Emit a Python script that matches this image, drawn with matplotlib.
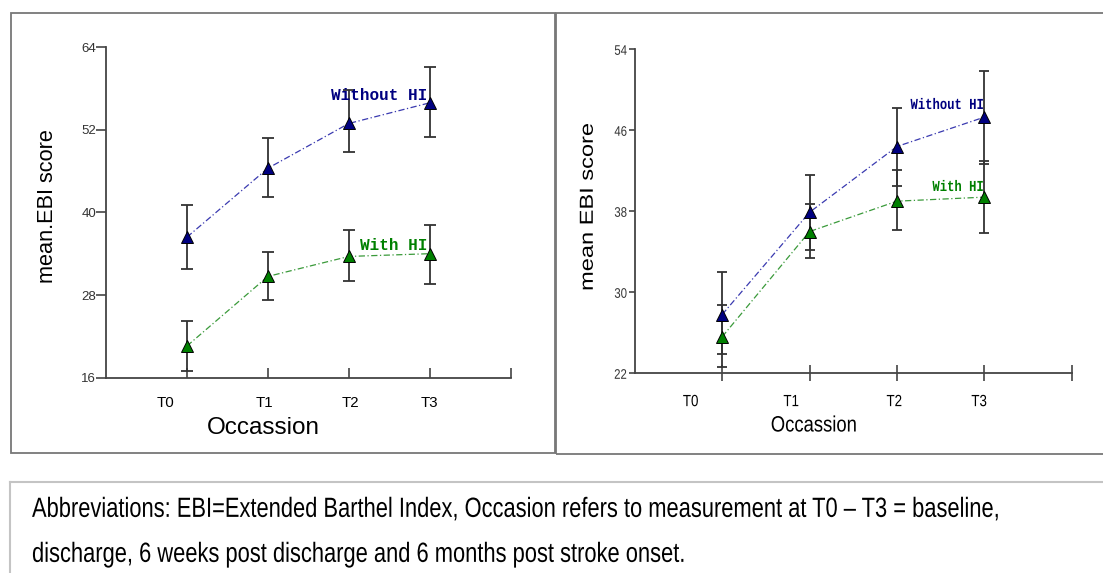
import matplotlib
matplotlib.use('Agg')
import matplotlib.pyplot as plt
from matplotlib import patheffects
from matplotlib.patches import Rectangle
from matplotlib.lines import Line2D
from matplotlib.transforms import Affine2D

# data
occasions = ['T0', 'T1', 'T2', 'T3']
x_pos = [1, 2, 3, 4]

left_without = [36.4, 46.4, 52.9, 55.9]
left_without_lo = [31.8, 42.2, 48.7, 51.0]
left_without_hi = [41.1, 50.8, 57.8, 61.1]
left_with = [20.6, 30.7, 33.6, 34.0]
left_with_lo = [17.0, 27.3, 30.0, 29.6]
left_with_hi = [24.3, 34.2, 37.5, 38.2]

right_without = [27.8, 37.9, 44.4, 47.3]
right_without_lo = [23.9, 34.2, 40.5, 42.7]
right_without_hi = [32.0, 41.6, 48.2, 51.9]
right_with = [25.6, 36.0, 39.0, 39.4]
right_with_lo = [22.6, 33.4, 36.2, 35.9]
right_with_hi = [28.7, 38.7, 42.1, 43.0]

left_yticks = [16, 28, 40, 52, 64]
right_yticks = [22, 30, 38, 46, 54]

caption = ["Abbreviations: EBI=Extended Barthel Index, Occasion refers to measurement at T0 \u2013 T3 = baseline,",
           "discharge, 6 weeks post discharge and 6 months post stroke onset."]

NAVY = '#000080'
GREEN = '#008000'
SANS = 'Liberation Sans'
MONO = 'Liberation Mono'

W, H = 1103, 573
fig = plt.figure(figsize=(W / 100, H / 100), dpi=100)


def fx(px):
    return px / W


def fy(py):
    return 1 - py / H


class Squeeze(patheffects.AbstractPathEffect):
    """draw text rescaled about a fixed anchor (display px)"""
    def __init__(self, sx, sy, x0, y0):
        super().__init__()
        self.t = Affine2D().translate(-x0, -y0).scale(sx, sy).translate(x0, y0)

    def draw_path(self, renderer, gc, tpath, affine, rgbFace=None):
        renderer.draw_path(gc, tpath, affine + self.t, rgbFace)


squeezed = []  # (text, sx, sy)


def draw_panel(ax, ylim, yticks, without, wlo, whi, withv, lo, hi,
               label_pos, ytick_size, xtick_size, capsize, txt_size, txt_pos):
    for vals, vlo, vhi, col, lcol in [(without, wlo, whi, NAVY, '#3a3ab0'),
                                      (withv, lo, hi, GREEN, '#3a9a3a')]:
        err = [[v - a for v, a in zip(vals, vlo)], [b - v for v, b in zip(vals, vhi)]]
        ax.errorbar(x_pos, vals, yerr=err, fmt='none', ecolor='#333333',
                    elinewidth=1.3, capsize=capsize, capthick=1.3, zorder=2)
        ax.plot(x_pos, vals, color=lcol, lw=0.9, ls=(0, (5, 2, 1, 2)), zorder=3)
        ax.plot(x_pos, vals, ls='none', marker='^', ms=9, mfc=col,
                mec='black', mew=0.7, zorder=4)
    ax.set_xlim(0, 5)
    ax.set_ylim(*ylim)
    for s in ['top', 'right']:
        ax.spines[s].set_visible(False)
    for s in ['left', 'bottom']:
        ax.spines[s].set_color('#444444')
        ax.spines[s].set_linewidth(1.3)
    ax.set_yticks(yticks)
    ax.set_yticklabels([str(t) for t in yticks], fontsize=ytick_size,
                       color='#333333', family=SANS)
    ax.xaxis.remove_overlapping_locs = False
    ax.set_xticks([1, 2, 3, 4, 5])
    ax.set_xticklabels([])
    ax.set_xticks(label_pos, minor=True)
    ax.set_xticklabels(occasions, minor=True, fontsize=xtick_size, family=SANS)
    ax.tick_params(axis='x', which='minor', length=0)
    ax.set_facecolor('none')
    t1 = ax.text(txt_pos[0][0], txt_pos[0][1], 'Without HI', color=NAVY, ha='right',
                 va='center', fontsize=txt_size, family=MONO,
                 fontweight='bold', zorder=5)
    t2 = ax.text(txt_pos[1][0], txt_pos[1][1], 'With HI', color=GREEN, ha='right',
                 va='center', fontsize=txt_size, family=MONO,
                 fontweight='bold', zorder=5)
    return t1, t2


# left panel
axL = fig.add_axes([fx(106), fy(377.7), fx(510.7 - 106), (377.7 - 47) / H])
draw_panel(axL, (16, 64), left_yticks, left_without, left_without_lo, left_without_hi,
           left_with, left_with_lo, left_with_hi, [0.73, 1.96, 3.02, 4.0],
           9.5, 10.8, 4.3, 11.5, [(3.97, 57.0), (3.97, 35.2)])
axL.tick_params(axis='y', direction='out', length=7, width=1.2, color='#444444', pad=0)
axL.tick_params(axis='x', which='major', direction='in', length=7, width=1.2, color='#444444')
axL.tick_params(axis='x', which='minor', pad=13)

# right panel
axR = fig.add_axes([fx(634.7), fy(373.3), fx(1071.8 - 634.7), (373.3 - 49.3) / H])
rt = draw_panel(axR, (22, 54), right_yticks, right_without, right_without_lo, right_without_hi,
                right_with, right_with_lo, right_with_hi, [0.64, 1.79, 2.97, 3.94],
                10, 11.7, 3.5, 11, [(3.99, 48.5), (3.99, 40.4)])
axR.tick_params(axis='y', direction='out', length=4.5, width=1.2, color='#444444', pad=1)
axR.tick_params(axis='x', which='major', direction='inout', length=12, width=1.2, color='#444444')
axR.tick_params(axis='x', which='minor', pad=15)
for t in rt:
    squeezed.append((t, 0.8, 1))
for t in axR.get_xticklabels(minor=True) + axR.get_yticklabels():
    squeezed.append((t, 0.82, 1))

# axis titles
fig.text(fx(263), fy(428), 'Occassion', ha='center', va='center', fontsize=17.5, family=SANS)
fig.text(fx(48), fy(206), 'mean.EBI score', ha='center', va='center', rotation=90,
         fontsize=15.7, family=SANS)
squeezed.append((fig.text(fx(814), fy(426), 'Occassion', ha='center', va='center',
                          fontsize=16, family=SANS), 0.83, 1))
squeezed.append((fig.text(fx(588), fy(207), 'mean EBI score', ha='center', va='center',
                          rotation=90, fontsize=17, family=SANS), 0.8, 1))

# panel frames and caption box
fig.add_artist(Rectangle((fx(10.5), fy(453)), fx(555 - 10.5), (453 - 13) / H,
                         transform=fig.transFigure, fill=False, ec='#777777', lw=1.3))
fig.add_artist(Rectangle((fx(555.5), fy(454)), fx(600), (454 - 13) / H,
                         transform=fig.transFigure, fill=False, ec='#777777', lw=1.3))
fig.add_artist(Line2D([fx(10), fx(1103)], [fy(482), fy(482)], transform=fig.transFigure,
                      color='#c4c4c4', lw=1.5))
fig.add_artist(Line2D([fx(10), fx(10)], [fy(482), fy(573)], transform=fig.transFigure,
                      color='#c4c4c4', lw=1.5))

for i, line in enumerate(caption):
    squeezed.append((fig.text(fx(32), fy(510 + 45 * i), line, ha='left', va='center',
                              fontsize=16, family=SANS), 0.985, 1.25))

# rescale the condensed texts about their own anchor
fig.canvas.draw()
r = fig.canvas.get_renderer()
for t, sx, sy in squeezed:
    bb = t.get_window_extent(r)
    ha = t.get_horizontalalignment()
    x0 = bb.x0 if ha == 'left' else (bb.x1 if ha == 'right' else (bb.x0 + bb.x1) / 2)
    t.set_path_effects([Squeeze(sx, sy, x0, (bb.y0 + bb.y1) / 2)])

fig.savefig('out.png', dpi=100)
